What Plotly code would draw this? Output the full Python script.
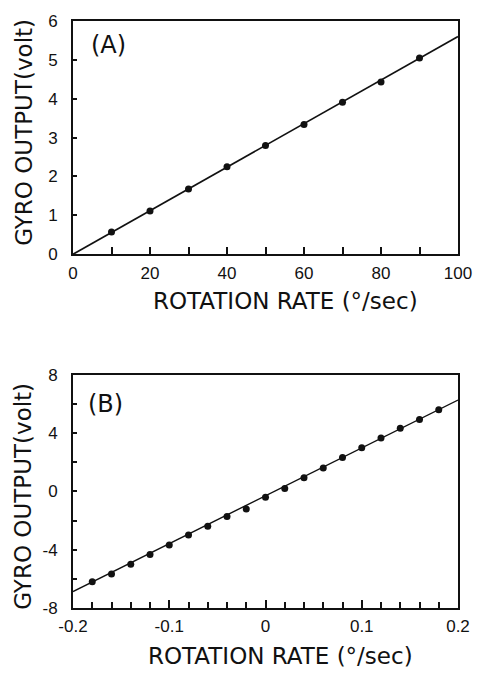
import plotly.graph_objects as go
from plotly.subplots import make_subplots

# Panel A data
a_rate = [10, 20, 30, 40, 50, 60, 70, 80, 90]
a_volt = [0.57, 1.11, 1.68, 2.25, 2.80, 3.34, 3.91, 4.43, 5.05]
a_fit_x = [0, 100]
a_fit_y = [0.0, 5.6]
a_xticks = [0, 20, 40, 60, 80, 100]
a_xticktext = ["0", "20", "40", "60", "80", "100"]
a_yticks = [0, 1, 2, 3, 4, 5, 6]
a_yticktext = ["0", "1", "2", "3", "4", "5", "6"]

# Panel B data
b_rate = [-0.18, -0.16, -0.14, -0.12, -0.10, -0.08, -0.06, -0.04, -0.02, 0.0,
          0.02, 0.04, 0.06, 0.08, 0.10, 0.12, 0.14, 0.16, 0.18]
b_volt = [-6.2, -5.67, -5.0, -4.33, -3.67, -3.0, -2.4, -1.73, -1.2, -0.4,
          0.2, 0.93, 1.6, 2.33, 3.0, 3.67, 4.33, 4.93, 5.6]
b_fit_x = [-0.2, 0.2]
b_fit_y = [-6.87, 6.27]
b_xticks = [-0.2, -0.1, 0.0, 0.1, 0.2]
b_xticktext = ["-0.2", "-0.1", "0", "0.1", "0.2"]
b_yticks = [-8, -4, 0, 4, 8]
b_yticktext = ["-8", "-4", "0", "4", "8"]

FONT = "Liberation Sans"
TFONT = "DejaVu Sans"
BLACK = "#111111"

fig = make_subplots(rows=2, cols=1)

fig.add_trace(go.Scatter(x=a_fit_x, y=a_fit_y, mode="lines",
                         line=dict(color=BLACK, width=1.6), showlegend=False), row=1, col=1)
fig.add_trace(go.Scatter(x=a_rate, y=a_volt, mode="markers",
                         marker=dict(color=BLACK, size=7), showlegend=False), row=1, col=1)
fig.add_trace(go.Scatter(x=b_fit_x, y=b_fit_y, mode="lines",
                         line=dict(color=BLACK, width=1.4), showlegend=False), row=2, col=1)
fig.add_trace(go.Scatter(x=b_rate, y=b_volt, mode="markers",
                         marker=dict(color=BLACK, size=7), showlegend=False), row=2, col=1)

axis_common = dict(showgrid=False, zeroline=False, showline=True, linecolor=BLACK,
                   linewidth=2, mirror=True, ticks="inside", tickcolor=BLACK,
                   tickwidth=1.5, tickfont=dict(family=FONT, size=17, color=BLACK))

fig.update_layout(
    xaxis=dict(axis_common, domain=[0, 1], range=[0, 100], tickvals=a_xticks,
               ticktext=a_xticktext, ticklen=7, ticklabelstandoff=2,
               minor=dict(dtick=10, ticks="inside", ticklen=7, tickcolor=BLACK, tickwidth=1.5)),
    yaxis=dict(axis_common, domain=[0.6027, 1.0], range=[0, 6], tickvals=a_yticks,
               ticktext=a_yticktext, ticklen=4, ticklabelstandoff=10),
    xaxis2=dict(axis_common, domain=[0, 1], range=[-0.2, 0.2], tickvals=b_xticks,
                ticktext=b_xticktext, ticklen=8, ticklabelstandoff=2,
                minor=dict(dtick=0.02, ticks="inside", ticklen=6, tickcolor=BLACK, tickwidth=1.5)),
    yaxis2=dict(axis_common, domain=[0.0, 0.3973], range=[-8, 8], tickvals=b_yticks,
                ticktext=b_yticktext, ticklen=4, ticklabelstandoff=10,
                minor=dict(dtick=2, ticks="inside", ticklen=4, tickcolor=BLACK, tickwidth=1.5)),
)

title_font = dict(family=TFONT, size=23, color=BLACK)
annotations = [
    dict(text="(A)", x=9.1, y=5.38, xref="x", yref="y", showarrow=False,
         xanchor="center", yanchor="middle",
         font=dict(family=TFONT, size=24, color=BLACK)),
    dict(text="(B)", x=-0.166, y=6.0, xref="x2", yref="y2", showarrow=False,
         xanchor="center", yanchor="middle",
         font=dict(family=TFONT, size=24, color=BLACK)),
    dict(text="ROTATION RATE (°/sec)", x=0.553, y=0.5236, xref="paper", yref="paper",
         xanchor="center", yanchor="middle", showarrow=False, font=title_font),
    dict(text="ROTATION RATE (°/sec)", x=0.54, y=-0.0825, xref="paper", yref="paper",
         xanchor="center", yanchor="middle", showarrow=False, font=title_font),
    dict(text="GYRO OUTPUT(volt)", x=-0.129, y=0.81, xref="paper", yref="paper",
         xanchor="center", yanchor="middle", showarrow=False, textangle=-90, font=title_font),
    dict(text="GYRO OUTPUT(volt)", x=-0.129, y=0.19, xref="paper", yref="paper",
         xanchor="center", yanchor="middle", showarrow=False, textangle=-90, font=title_font),
]

fig.update_layout(
    width=484, height=673,
    margin=dict(l=73, r=15, t=15, b=65),
    paper_bgcolor="white", plot_bgcolor="white",
    annotations=annotations,
    showlegend=False,
)

fig.write_html("out.html")
